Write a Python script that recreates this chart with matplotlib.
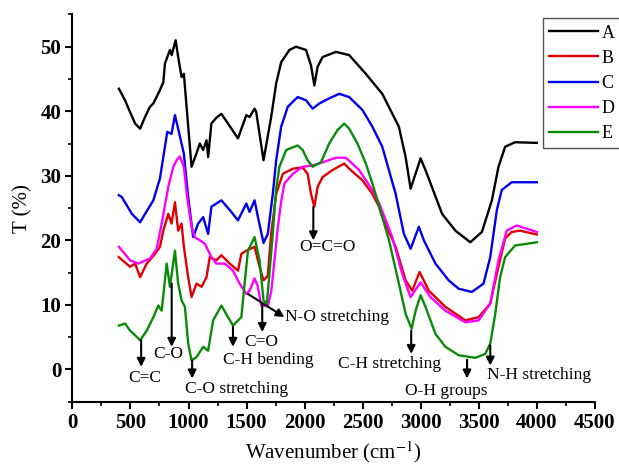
import matplotlib
matplotlib.use("Agg")
import matplotlib.pyplot as plt
from matplotlib.ticker import MultipleLocator

plt.rcParams["font.family"] = ["Liberation Serif", "DejaVu Serif"]
plt.rcParams["mathtext.fontset"] = "stix"

# FTIR transmittance spectra
a_x = [400, 453, 496, 540, 583, 625, 668, 697, 754, 783, 797, 840, 855, 889, 911, 940, 960,
       1026, 1069, 1097, 1126, 1155, 1169, 1197, 1240, 1283, 1340, 1426, 1498, 1526, 1569, 1583,
       1646, 1712, 1755, 1798, 1869, 1926, 2012, 2055, 2084, 2112, 2155, 2270, 2384, 2527, 2669,
       2812, 2870, 2913, 2999, 3041, 3184, 3299, 3427, 3527, 3613, 3670, 3727, 3813, 4000]
a_y = [43.5, 41.7, 39.9, 38.1, 37.3, 39.1, 40.7, 41.2, 43.3, 44.5, 47.4, 49.5, 48.7, 51.0, 48.4,
       45.3, 45.8, 31.4, 33.5, 35.0, 34.0, 35.5, 32.9, 38.1, 39.0, 39.6, 38.1, 35.8, 39.4, 39.1,
       40.4, 39.9, 32.4, 39.1, 44.3, 47.6, 49.5, 50.0, 49.5, 47.1, 44.0, 46.9, 48.4, 49.2, 48.7,
       45.8, 42.7, 37.6, 32.9, 28.0, 32.7, 30.9, 24.1, 21.5, 19.7, 21.3, 26.2, 31.4, 34.5, 35.2,
       35.1]

b_x = [400, 497, 540, 583, 640, 712, 754, 783, 826, 854, 883, 911, 940, 960, 997, 1026, 1069,
       1112, 1155, 1183, 1240, 1283, 1355, 1426, 1455, 1498, 1569, 1612, 1646, 1683, 1712, 1755,
       1812, 1898, 1983, 2026, 2055, 2084, 2112, 2155, 2241, 2341, 2384, 2498, 2584, 2641, 2669,
       2784, 2870, 2927, 2990, 3070, 3213, 3384, 3499, 3599, 3670, 3727, 3784, 3856, 4000]
b_y = [17.4, 15.9, 16.4, 14.3, 16.4, 17.9, 19.0, 21.5, 24.1, 22.6, 25.9, 21.5, 22.6, 19.0, 14.3,
       11.2, 13.3, 12.8, 14.3, 17.4, 16.9, 17.7, 16.4, 15.3, 17.9, 18.4, 19.0, 15.9, 13.8, 14.5,
       21.0, 27.2, 30.3, 31.1, 31.3, 30.3, 27.2, 25.2, 28.3, 29.8, 30.9, 31.9, 31.1, 29.3, 27.2,
       25.2, 23.6, 19.0, 13.8, 12.2, 15.1, 12.2, 9.7, 7.6, 8.1, 10.2, 15.9, 20.3, 21.3, 21.5, 20.9]

c_x = [400, 426, 512, 583, 626, 697, 754, 817, 854, 883, 917, 960, 997, 1040, 1083, 1126, 1169,
       1197, 1283, 1355, 1426, 1498, 1526, 1569, 1598, 1646, 1683, 1726, 1755, 1798, 1855, 1940,
       2012, 2069, 2126, 2212, 2298, 2384, 2498, 2584, 2669, 2784, 2855, 2913, 2984, 3027, 3127,
       3241, 3327, 3441, 3541, 3599, 3656, 3698, 3784, 4000]
c_y = [27.0, 26.7, 24.1, 22.8, 24.1, 26.2, 29.6, 36.8, 36.5, 39.4, 36.8, 33.4, 26.7, 20.5, 22.6,
       23.6, 21.0, 25.2, 26.2, 24.7, 23.1, 25.7, 24.4, 26.2, 23.6, 19.6, 21.0, 27.2, 32.4, 37.6,
       40.7, 42.2, 41.7, 40.4, 41.2, 42.0, 42.7, 42.2, 40.2, 37.6, 34.5, 27.2, 21.0, 18.7, 22.1,
       20.0, 16.4, 13.8, 12.5, 12.0, 13.3, 17.4, 24.7, 27.8, 29.0, 29.0]

d_x = [400, 497, 568, 669, 726, 769, 826, 869, 897, 926, 960, 988, 1026, 1054, 1140, 1197, 1240,
       1312, 1383, 1440, 1498, 1526, 1569, 1598, 1626, 1683, 1712, 1741, 1769, 1798, 1826, 1898,
       1983, 2069, 2155, 2270, 2355, 2469, 2584, 2641, 2755, 2841, 2913, 2999, 3084, 3213, 3384,
       3499, 3599, 3670, 3741, 3827, 4000]
d_y = [19.0, 16.9, 16.4, 17.2, 18.7, 22.6, 28.3, 31.4, 32.4, 33.0, 31.4, 26.7, 22.1, 20.5, 19.5,
       17.4, 16.4, 16.4, 15.3, 13.3, 11.7, 12.2, 14.1, 12.8, 9.9, 9.8, 12.0, 17.0, 22.0, 26.0,
       28.8, 30.3, 31.4, 31.6, 32.1, 32.8, 32.8, 30.9, 27.8, 25.8, 20.5, 14.8, 11.2, 13.5, 11.2,
       9.1, 7.3, 7.6, 10.2, 16.9, 21.5, 22.3, 21.3]

e_x = [400, 454, 497, 540, 583, 640, 697, 740, 769, 812, 840, 883, 911, 940, 969, 997, 1026,
       1069, 1126, 1169, 1212, 1283, 1340, 1383, 1455, 1483, 1512, 1569, 1612, 1646, 1675, 1726,
       1755, 1783, 1841, 1940, 1983, 2026, 2069, 2141, 2212, 2284, 2341, 2384, 2455, 2527, 2584,
       2627, 2727, 2812, 2870, 2922, 2956, 2999, 3041, 3127, 3213, 3327, 3470, 3556, 3599, 3642,
       3684, 3727, 3813, 4000]
e_y = [6.8, 7.1, 6.0, 5.3, 4.5, 6.0, 8.1, 9.9, 9.1, 16.4, 12.8, 18.4, 13.3, 10.7, 9.7, 4.0, 1.4,
       1.9, 3.5, 2.9, 7.6, 9.9, 8.1, 6.8, 8.1, 13.3, 18.4, 20.5, 16.9, 10.7, 10.2, 21.0, 28.0,
       31.4, 34.0, 34.7, 34.0, 32.4, 31.4, 32.1, 35.0, 37.1, 38.1, 37.3, 35.0, 31.9, 28.8, 26.2,
       20.0, 13.3, 8.6, 6.3, 9.1, 11.5, 9.7, 5.5, 3.5, 2.2, 1.8, 2.4, 4.0, 8.6, 14.3, 17.4, 19.2,
       19.7]

series = [
    ("A", a_x, a_y, "black"),
    ("B", b_x, b_y, "#e00000"),
    ("C", c_x, c_y, "#0000ee"),
    ("D", d_x, d_y, "#ff00ff"),
    ("E", e_x, e_y, "#0a8a0a"),
]

# band assignments: label, arrow tail, arrow tip, text position, alignment
bands = [
    ("C=C", (592, 4.5), (592, 0.4), (626, -1.4), "center"),
    ("C-O", (855, 13.3), (855, 3.5), (826, 2.4), "center"),
    ("C-O stretching", (1031, 1.4), (1031, -1.4), (969, -3.0), "left"),
    ("C-H bending", (1383, 6.6), (1383, 3.5), (1686, 1.5), "center"),
    ("C=O", (1635, 10.2), (1635, 5.8), (1626, 4.2), "center"),
    ("N-O stretching", (1512, 11.7), (1826, 8.1), (1835, 8.1), "left"),
    ("O=C=O", (2075, 25.2), (2075, 20.0), (2200, 19.0), "center"),
    ("C-H stretching", (2918, 6.0), (2918, 2.4), (2732, 0.9), "center"),
    ("O-H groups", (3399, 1.5), (3399, -1.4), (3220, -3.3), "center"),
    ("N-H stretching", (3599, 3.7), (3599, 0.6), (4022, -0.9), "center"),
]

fig = plt.figure(figsize=(6.19, 4.66), dpi=100)
ax = fig.add_axes([0.117, 0.138, 0.844, 0.831])

for name, xs, ys, col in series:
    ax.plot(xs, ys, color=col, lw=1.7, label=name)

for label, tail, tip, txt, ha in bands:
    ax.annotate("", xy=tip, xytext=tail,
                arrowprops=dict(arrowstyle="-|>", color="black", lw=1.5,
                                mutation_scale=12, shrinkA=0, shrinkB=0))
    ax.text(txt[0], txt[1], label, ha=ha, va="center", fontsize=12.5)

ax.set_xlim(0, 4500)
ax.set_ylim(-5, 55)
ax.xaxis.set_major_locator(MultipleLocator(500))
ax.xaxis.set_minor_locator(MultipleLocator(250))
ax.yaxis.set_minor_locator(MultipleLocator(5))
ax.set_yticks([0, 10, 20, 30, 40, 50])
ax.spines["top"].set_visible(False)
ax.spines["right"].set_visible(False)
for s in ("left", "bottom"):
    ax.spines[s].set_linewidth(1.5)
ax.tick_params(which="major", direction="out", length=5, width=1.5, labelsize=15, pad=3)
ax.tick_params(which="minor", direction="out", length=3, width=1.2)
for t in ax.get_xticklabels() + ax.get_yticklabels():
    t.set_fontweight("bold")

ax.set_xlabel("Wavenumber (cm$^{-1}$)", fontsize=15, labelpad=5)
ax.set_ylabel("T (%)", fontsize=15, labelpad=6)

leg = fig.legend(loc="upper left", bbox_to_anchor=(542.7 / 619, 1 - 18.3 / 466),
                 fontsize=13, handlelength=2.7, handletextpad=0.2, labelspacing=0.45,
                 borderpad=0.35, borderaxespad=0, fancybox=False, framealpha=1)
leg.get_frame().set_edgecolor("#555555")
leg.get_frame().set_linewidth(1.0)

plt.savefig("out.png", dpi=100)
plt.close()
